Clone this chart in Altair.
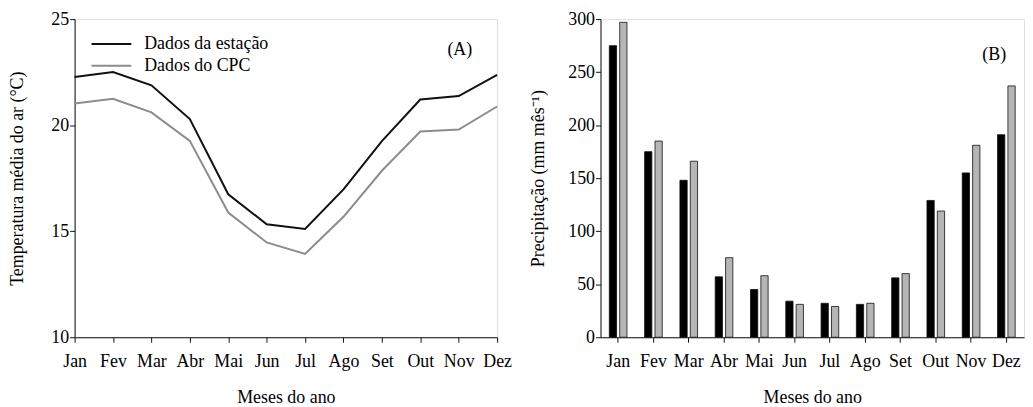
import altair as alt
import pandas as pd

months = ["Jan", "Fev", "Mar", "Abr", "Mai", "Jun", "Jul", "Ago", "Set", "Out", "Nov", "Dez"]
temp_estacao = [22.27, 22.5, 21.88, 20.29, 16.74, 15.33, 15.11, 16.97, 19.25, 21.21, 21.37, 22.37]
temp_cpc = [21.02, 21.24, 20.60, 19.26, 15.88, 14.47, 13.93, 15.68, 17.85, 19.70, 19.79, 20.88]
prec_estacao = [275, 175, 148, 57, 45, 34, 32, 31, 56, 129, 155, 191]
prec_cpc = [297, 185, 166, 75, 58, 31, 29, 32, 60, 119, 181, 237]
series = ["Dados da estação", "Dados do CPC"]
line_colors = ["#111111", "#8c8c8c"]
bar_colors = ["#000000", "#b5b5b5"]

temp_df = pd.DataFrame({
    "mes": months * 2,
    "valor": temp_estacao + temp_cpc,
    "serie": [series[0]] * 12 + [series[1]] * 12,
})
prec_df = pd.DataFrame({
    "mes": months * 2,
    "valor": prec_estacao + prec_cpc,
    "serie": [series[0]] * 12 + [series[1]] * 12,
})

FONT = "Liberation Serif"
FS = 18
INK = "#000000"

axis_common = dict(
    labelFont=FONT, titleFont=FONT, labelFontSize=FS, titleFontSize=FS,
    titleFontWeight="normal", labelColor=INK, titleColor=INK,
    domainColor="#111", tickColor="#111", tickSize=5, grid=False,
)

lines = alt.Chart(temp_df).mark_line(strokeWidth=2).encode(
    x=alt.X("mes:N", sort=months, scale=alt.Scale(type="point", padding=0),
            axis=alt.Axis(title="Meses do ano", labelAngle=0, labelPadding=10,
                          titlePadding=19, **axis_common)),
    y=alt.Y("valor:Q", scale=alt.Scale(domain=[10, 25], nice=False, zero=False),
            axis=alt.Axis(title="Temperatura média do ar (°C)", values=[10, 15, 20, 25],
                          labelPadding=1, titlePadding=24, **axis_common)),
    color=alt.Color("serie:N", scale=alt.Scale(domain=series, range=line_colors), legend=None),
)

# manual legend (symbol lines + labels)
leg_rows = []
for i, (name, col) in enumerate(zip(series, line_colors)):
    yy = 25 + i * 22
    rule = alt.Chart(pd.DataFrame({"s": [name]})).mark_rule(strokeWidth=2, color=col).encode(
        x=alt.value(17), x2=alt.value(57), y=alt.value(yy))
    txt = alt.Chart(pd.DataFrame({"s": [name]})).mark_text(
        font=FONT, fontSize=FS, color=INK, align="left", baseline="middle").encode(
        text="s:N", x=alt.value(70), y=alt.value(yy))
    leg_rows += [rule, txt]

label_a = alt.Chart(pd.DataFrame({"t": ["(A)"]})).mark_text(
    font=FONT, fontSize=FS, color=INK, align="left", baseline="middle"
).encode(text="t:N", x=alt.value(375), y=alt.value(31))

left = alt.layer(lines, *leg_rows, label_a).properties(width=425, height=320)

bars = alt.Chart(prec_df).mark_bar(stroke="#111", strokeWidth=0.8).encode(
    x=alt.X("mes:N", sort=months,
            scale=alt.Scale(paddingInner=0.5, paddingOuter=0.25),
            axis=alt.Axis(title="Meses do ano", labelAngle=0, labelPadding=10,
                          titlePadding=19, **axis_common)),
    xOffset=alt.XOffset("serie:N", sort=series, scale=alt.Scale(paddingInner=0.3)),
    y=alt.Y("valor:Q", scale=alt.Scale(domain=[0, 300], nice=False),
            axis=alt.Axis(title="Precipitação (mm mês⁻¹)", values=[0, 50, 100, 150, 200, 250, 300],
                          labelPadding=1, titlePadding=20, **axis_common)),
    color=alt.Color("serie:N", scale=alt.Scale(domain=series, range=bar_colors), legend=None),
)
label_b = alt.Chart(pd.DataFrame({"t": ["(B)"]})).mark_text(
    font=FONT, fontSize=FS, color=INK, align="left", baseline="middle"
).encode(text="t:N", x=alt.value(384), y=alt.value(36))

right = alt.layer(bars, label_b).properties(width=426, height=320)

chart = alt.hconcat(left, right, spacing=17).resolve_scale(color="independent").properties(
    padding={"left": 0, "top": 0, "right": 0, "bottom": 0}
).configure_view(stroke="#111", strokeWidth=1).configure(background="white")

chart.save("out.html", embed_options={"renderer": "svg", "actions": False})
